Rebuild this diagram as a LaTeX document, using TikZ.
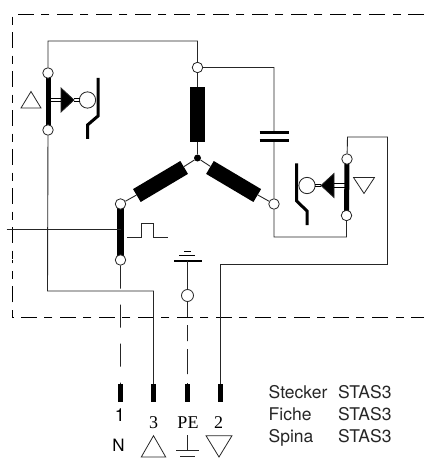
\documentclass[tikz,border=0pt]{standalone}
\usepackage{fontspec}
\setmainfont{Liberation Serif}
\setsansfont{TeX Gyre Heros}
\usetikzlibrary{backgrounds}

\begin{document}
\begin{tikzpicture}[scale=0.3514,line join=miter,
  wire/.style={black!85,line width=0.9pt},
  frame/.style={black,line width=0.9pt,dash pattern=on 16pt off 7.5pt on 8pt off 7.5pt},
  term/.style={circle,draw=black!85,fill=white,line width=0.8pt,minimum size=10.5pt},
  bar/.style={black,line width=5pt},
  coil/.style={fill=black,minimum width=15pt,minimum height=55pt},
  pin/.style={fill=black,minimum width=5pt,minimum height=18pt},
  lamp/.style={circle,draw=black!85,fill=white,line width=0.8pt,minimum size=16.3pt},
  sym/.style={draw=black!85,line width=0.8pt},
  serif/.style={font=\fontsize{18}{20}\selectfont,anchor=base},
  sans/.style={font=\fontsize{17.5}{20}\sffamily\selectfont,anchor=base west,text=black!85}]
\tikzstyle{every node}+=[inner sep=0pt]
\useasboundingbox (0,0) rectangle (42.4,-45.8);
% housing
\draw [frame] (42.4,-1.45) -- (1.25,-1.45) -- (1.25,-26);
\draw [frame,dash phase=3pt] (42.4,-31.7) -- (1.25,-31.7) -- (1.25,-26);
% terminals
\node [term] (a1) at (4.8,-7.3) {};
\node [term] (a2) at (4.8,-13) {};
\node [term] (u) at (19.75,-6.75) {};
\node [term] (w) at (27.4,-20.4) {};
\node [term] (v) at (12.05,-20.4) {};
\node [term] (v2) at (12.05,-26) {};
\node [term] (b1) at (34.7,-15.9) {};
\node [term] (b2) at (34.65,-21.55) {};
\node [term,minimum size=12pt] (pe) at (18.75,-29.55) {};
\node [circle,fill=black,minimum size=7pt] (star) at (19.75,-15.8) {};
% coils
\node [coil] (cu) at (19.75,-11.45) {};
\node [coil,rotate=-59.3] (cv) at (16.05,-18.15) {};
\node [coil,rotate=59.3] (cw) at (23.36,-18.15) {};
% plugs
\node [pin] (p1) at (12.05,-39.3) {};
\node [pin] (p3) at (15.35,-39.3) {};
\node [pin] (ppe) at (18.75,-39.3) {};
\node [pin] (p2) at (22.05,-39.3) {};
\begin{scope}[on background layer]
\draw [bar] (a1.center) -- (a2.center);
\draw [bar,line width=7.5pt] (v.center) -- (v2.center);
\draw [bar] (b1.center) -- (b2.center);
\end{scope}
% wiring
\draw [wire] (a1) -- (4.8,-4.1) -- (19.75,-4.1) -- (u);
\draw [wire] (u) -- (27.4,-6.75) -- (27.4,-13.2);
\draw [wire] (27.4,-14.15) -- (w);
\draw [wire] (u) -- (cu);
\draw [wire] (cu) -- (star);
\draw [wire] (star) -- (cv);
\draw [wire] (cv) -- (v);
\draw [wire] (star) -- (cw);
\draw [wire] (cw) -- (w);
\draw [wire] (a2) -- (4.75,-29.1) -- (15.35,-29.1) -- (p3);
\draw [wire] (w) -- (27.4,-23.7) -- (34.65,-23.7) -- (b2);
\draw [wire] (b1) -- (34.75,-13.7) -- (38.75,-13.7) -- (38.75,-26.45) -- (22.05,-26.45) -- (p2);
\coordinate (ctl) at (0.67,-22.95);
\draw [wire] (ctl) -- (v.center |- ctl);
\draw [wire,dash pattern=on 23pt off 16pt] (v2) -- (p1);
% capacitor
\draw [line width=3pt] (25.95,-13.3) -- (28.85,-13.3);
\draw [line width=3pt] (25.95,-14.05) -- (28.85,-14.05);
% pulse
\draw [wire] (12.7,-23.73) -- (14.1,-23.73) -- (14.1,-22.33) -- (15.35,-22.33) -- (15.35,-23.73) -- (16.8,-23.73);
% earth
\coordinate (gnd) at (18.75,-26.07);
\draw [line width=1.6pt] (17.4,-26.07) -- (20.15,-26.07);
\draw [line width=0.8pt] (17.9,-25.57) -- (19.5,-25.57);
\draw [line width=0.8pt] (18.4,-25.1) -- (19.1,-25.1);
\draw [wire] (gnd) -- (pe);
\draw [wire] (pe) -- (18.75,-31.7);
\draw [wire,dash pattern=on 16pt off 8pt on 25pt off 9pt] (18.75,-32.5) -- (ppe);
% left relay
\node [lamp] (la) at (8.75,-10) {};
\draw [sym,fill=black] (6.1,-8.8) -- (7.4,-10) -- (6.1,-11.2) -- cycle;
\draw [line width=0.7pt] (5,-9.87) -- (6.1,-9.87);
\draw [line width=0.7pt] (5,-10.13) -- (6.1,-10.13);
\draw [line width=0.7pt] (7.4,-9.87) -- (8,-9.87);
\draw [line width=0.7pt] (7.4,-10.13) -- (8,-10.13);
\draw [line width=3pt] (9.8,-7.8) -- (9.8,-11.6) -- (8.75,-12.5) -- (8.75,-13.9);
\draw [sym] (2.1,-10.8) -- (4.1,-10.8) -- (3.1,-9.15) -- cycle;
% right relay
\node [lamp] (lb) at (30.7,-18.55) {};
\draw [sym,fill=black] (33.4,-17.35) -- (32.1,-18.55) -- (33.4,-19.75) -- cycle;
\draw [line width=0.7pt] (33.4,-18.35) -- (34.5,-18.35);
\draw [line width=0.7pt] (33.4,-18.7) -- (34.5,-18.7);
\draw [line width=0.7pt] (31.5,-18.42) -- (32.1,-18.42);
\draw [line width=0.7pt] (31.5,-18.68) -- (32.1,-18.68);
\draw [line width=3pt] (29.67,-16.35) -- (29.67,-20.1) -- (30.7,-21.1) -- (30.7,-22.5);
\draw [sym] (35.35,-17.75) -- (37.45,-17.75) -- (36.4,-19.35) -- cycle;
% plug labels
\node [serif,font=\fontsize{18}{20}\sffamily\selectfont] (l1) at (12,-42.17) {1};
\node [serif] (l3) at (15.35,-42.83) {3};
\node [serif] (lpe) at (18.8,-42.83) {PE};
\node [serif] (l2) at (21.85,-42.8) {2};
\node [serif,font=\fontsize{17}{20}\sffamily\selectfont] (ln) at (11.85,-45.17) {N};
\draw [sym] (14.13,-45.7) -- (16.57,-45.7) -- (15.35,-43.57) -- cycle;
\draw [sym] (18.75,-43.5) -- (18.75,-45.05);
\draw [sym] (17.6,-45.05) -- (19.9,-45.05);
\draw [sym] (18,-45.6) -- (19.5,-45.6);
\draw [sym] (20.6,-43.57) -- (23.2,-43.57) -- (21.9,-45.7) -- cycle;
% plug names
\node [sans] (s1) at (26.85,-39.83) {Stecker};
\node [sans] (s2) at (26.85,-42.07) {Fiche};
\node [sans] (s3) at (26.85,-44.2) {Spina};
\node [sans] (t1) at (33.8,-39.83) {STAS3};
\node [sans] (t2) at (33.8,-42.07) {STAS3};
\node [sans] (t3) at (33.8,-44.2) {STAS3};
\end{tikzpicture}
\end{document}
